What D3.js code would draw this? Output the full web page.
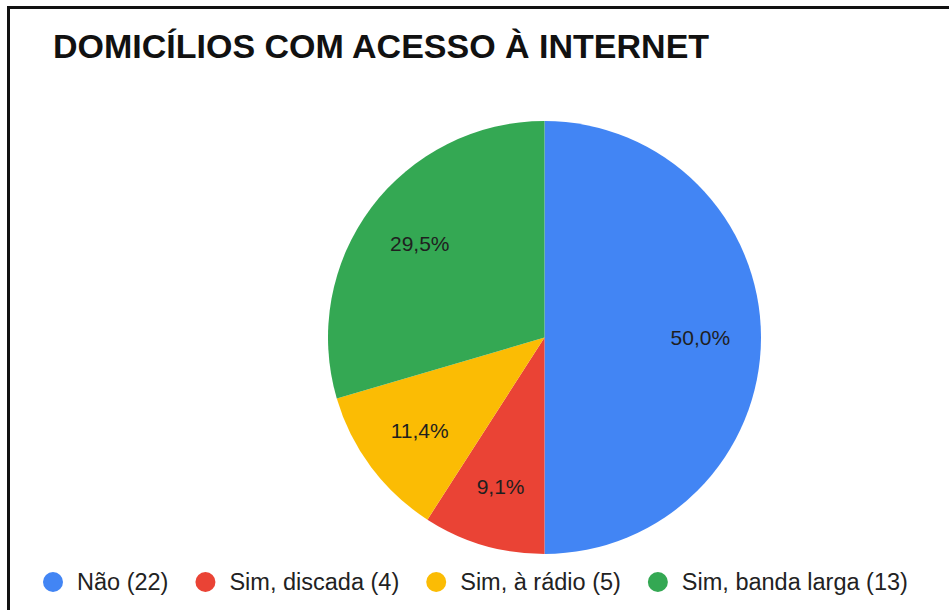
<!DOCTYPE html>
<html>
<head>
<meta charset="utf-8">
<script src="https://cdn.jsdelivr.net/npm/d3@7"></script>
<style>
  html, body { margin: 0; padding: 0; background: #fff; }
  svg { display: block; font-family: Arial, "Liberation Sans", sans-serif; }
</style>
</head>
<body>
<div id="container"></div>
<script>
// chart data
const categories = ['Não', 'Sim, discada', 'Sim, à rádio', 'Sim, banda larga'];
const counts = [22, 4, 5, 13];
const colors = ['#4285F4', '#EA4335', '#FBBC04', '#34A853'];
const title = 'DOMICÍLIOS COM ACESSO À INTERNET';

const width = 949;
const height = 610;

const svg = d3.select('#container').append('svg')
    .attr('width', width)
    .attr('height', height);

// frame (top and left edges only visible)
svg.append('rect')
    .attr('x', 8.5).attr('y', 7.5)
    .attr('width', width + 20).attr('height', height + 20)
    .attr('fill', 'none')
    .attr('stroke', '#111')
    .attr('stroke-width', 3);

svg.append('text')
    .attr('x', 53)
    .attr('y', 58)
    .attr('font-size', 34)
    .attr('font-weight', 'bold')
    .attr('fill', '#111')
    .text(title);

// pie
const cx = 544.5, cy = 337.5, r = 216.5;
const total = d3.sum(counts);
const data = categories.map((c, i) => ({ name: c, value: counts[i], color: colors[i] }));

const pie = d3.pie().sort(null).value(d => d.value);
const arc = d3.arc().innerRadius(0).outerRadius(r);
const labelArc = d3.arc().innerRadius(r * 0.72).outerRadius(r * 0.72);

const g = svg.append('g').attr('transform', `translate(${cx},${cy})`);
const arcs = pie(data);

g.selectAll('path')
    .data(arcs)
    .enter().append('path')
    .attr('d', arc)
    .attr('fill', d => d.data.color);

const fmt = v => (Math.round(v * 1000) / 10).toFixed(1).replace('.', ',') + '%';

g.selectAll('text.lbl')
    .data(arcs)
    .enter().append('text')
    .attr('class', 'lbl')
    .attr('transform', d => `translate(${labelArc.centroid(d)})`)
    .attr('text-anchor', 'middle')
    .attr('dy', '0.35em')
    .attr('font-size', 21)
    .attr('fill', '#1f1f1f')
    .text(d => fmt(d.data.value / total));

// legend
const legend = svg.append('g').attr('transform', 'translate(0,582)');
let lx = 53;
data.forEach(d => {
    const item = legend.append('g').attr('transform', `translate(${lx},0)`);
    item.append('circle').attr('r', 10).attr('fill', d.color);
    const t = item.append('text')
        .attr('x', 24)
        .attr('dy', '0.35em')
        .attr('font-size', 23.5)
        .attr('fill', '#222')
        .text(`${d.name} (${d.value})`);
    lx += 24 + t.node().getComputedTextLength() + 37;
});
</script>
</body>
</html>
